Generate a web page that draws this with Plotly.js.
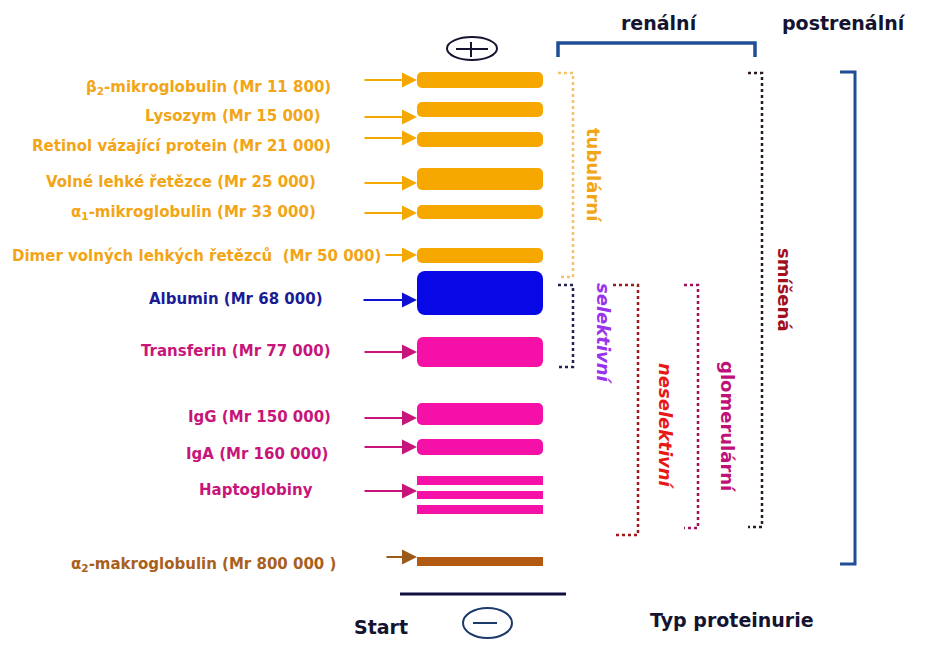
<!DOCTYPE html>
<html>
<head>
<meta charset="utf-8">
<script src="https://cdn.plot.ly/plotly-3.0.1.min.js"></script>
<style>html,body{margin:0;padding:0;background:#fff;}#chart{width:930px;height:671px;}</style>
</head>
<body>
<div id="chart"></div>
<script>
// ---------- DATA ----------
const proteins = ["β<sub>2</sub>-mikroglobulin", "Lysozym", "Retinol vázající protein", "Volné lehké řetězce",
  "α<sub>1</sub>-mikroglobulin", "Dimer volných lehkých řetězců ", "Albumin", "Transferin", "IgG", "IgA",
  "Haptoglobiny", "α<sub>2</sub>-makroglobulin"];
const mrValues = ["11 800", "15 000", "21 000", "25 000", "33 000", "50 000", "68 000", "77 000", "150 000", "160 000", "", "800 000 "];
const proteinGroup = ["tub", "tub", "tub", "tub", "tub", "tub", "alb", "glom", "glom", "glom", "glom", "mak"];
// bands on the gel (electrophoretic position, top and bottom edge)
const bandProtein = [0, 1, 2, 3, 4, 5, 6, 7, 8, 9, 10, 10, 10, 11];
const bandTop =    [72, 102, 132, 168, 205, 248, 271, 337, 403, 439, 476, 491, 505, 557];
const bandBottom = [88, 117, 147, 190, 219, 263, 315, 367, 425, 455, 485, 499, 514, 566];
const laneStart = 417, laneEnd = 543;
// proteinuria types
const typeNames = ["tubulární", "selektivní", "neselektivní", "glomerulární", "smíšená"];
const typeTop =    [73, 285, 285, 285, 73];
const typeBottom = [277, 367, 535, 528, 527];

// ---------- STYLE / LAYOUT ----------
const FONT = "DejaVu Sans, Liberation Sans, Arial, sans-serif";
const groupBar = {tub: "#F7A800", alb: "#0808E6", glom: "#F510A8", mak: "#B25A12"};
const groupLabel = {tub: "#F2A516", alb: "#1B1B96", glom: "#C8157A", mak: "#A8601C"};
const groupArrow = {tub: "#F5A800", alb: "#1010D0", glom: "#C8157A", mak: "#9A5A1A"};
const labelRight = [333, 323, 333, 318, 318, 383, 325, 333, 333, 330, 315, 338];
const labelY = [87, 116, 146, 182, 212, 256, 299, 351, 417, 454, 490, 564];
const arrowY = [80, 117, 138, 183, 213, 255, 300, 352, 418, 447, 491, 557];
const arrowFrom = [363, 363, 363, 363, 363, 384, 362, 363, 363, 363, 363, 385];
const bandRadius = [5, 5, 5, 5, 5, 5, 8, 6, 5, 5, 0, 0, 0, 0];
const typeStyle = [
  {bx: 573, w: 15, line: "#F5C46A", tx: 594, ty: 175, color: "#F2A516", italic: false},
  {bx: 573, w: 15, line: "#222255", tx: 604, ty: 334, color: "#9933EE", italic: true},
  {bx: 638, w: 25, line: "#A01818", tx: 666, ty: 426, color: "#E81818", italic: true},
  {bx: 698, w: 14, line: "#A0105A", tx: 728, ty: 426, color: "#C0107A", italic: false},
  {bx: 762, w: 14, line: "#2A1A1A", tx: 785, ty: 290, color: "#A01020", italic: false}
];
const DARK = "#141430";
const BLUE = "#1F4E96";

// ---------- TRACES ----------
const traces = bandTop.map((t, i) => {
  const g = proteinGroup[bandProtein[i]];
  return {
    type: "bar", orientation: "h",
    y: [(t + bandBottom[i]) / 2], x: [laneEnd - laneStart], base: [laneStart],
    width: [bandBottom[i] - t],
    marker: {color: groupBar[g], cornerradius: bandRadius[i], line: {width: 0}},
    hoverinfo: "skip", showlegend: false
  };
});

// ---------- ANNOTATIONS ----------
const ann = [];
proteins.forEach((p, i) => {
  const g = proteinGroup[i];
  const txt = mrValues[i] ? p + " (Mr " + mrValues[i] + ")" : p;
  ann.push({x: labelRight[i], y: labelY[i], xref: "x", yref: "y", xanchor: "right", yanchor: "middle",
    text: txt, showarrow: false, font: {family: FONT, size: 15, weight: "bold", color: groupLabel[g]}});
  ann.push({x: laneStart, y: arrowY[i], ax: arrowFrom[i], ay: arrowY[i], xref: "x", yref: "y", axref: "x", ayref: "y",
    text: "", showarrow: true, arrowhead: 2, arrowsize: 1.5, arrowwidth: 2, arrowcolor: groupArrow[g], standoff: 0});
});
typeNames.forEach((n, i) => {
  const s = typeStyle[i];
  ann.push({x: s.tx, y: s.ty, xref: "x", yref: "y", text: n, textangle: 90, showarrow: false,
    font: {family: FONT, size: 18, weight: "bold", style: s.italic ? "italic" : "normal", color: s.color}});
});
const heads = [
  {t: "renální", x: 659, y: 23}, {t: "postrenální", x: 844, y: 23},
  {t: "Start", x: 381, y: 627}, {t: "Typ proteinurie", x: 732, y: 620}
];
heads.forEach(h => ann.push({x: h.x, y: h.y, xref: "x", yref: "y", text: h.t, showarrow: false,
  font: {family: FONT, size: 19, weight: "bold", color: DARK}}));

// ---------- SHAPES ----------
const shapes = [];
typeNames.forEach((n, i) => {
  const s = typeStyle[i];
  shapes.push({type: "path", xref: "x", yref: "y",
    path: `M ${s.bx - s.w} ${typeTop[i]} L ${s.bx} ${typeTop[i]} L ${s.bx} ${typeBottom[i]} L ${s.bx - s.w} ${typeBottom[i]}`,
    line: {color: s.line, width: 2.5, dash: "dot"}});
});
// renální bracket
shapes.push({type: "path", xref: "x", yref: "y", path: "M 558 57 L 558 43 L 755 43 L 755 57",
  line: {color: BLUE, width: 3.5}});
// postrenální bracket
shapes.push({type: "path", xref: "x", yref: "y", path: "M 840 72 L 855 72 L 855 564 L 840 564",
  line: {color: BLUE, width: 3}});
// start line
shapes.push({type: "line", xref: "x", yref: "y", x0: 400, x1: 566, y0: 594, y1: 594, line: {color: "#101040", width: 3}});
// + electrode
shapes.push({type: "circle", xref: "x", yref: "y", x0: 447, x1: 497, y0: 37, y1: 60, line: {color: DARK, width: 2}});
shapes.push({type: "line", xref: "x", yref: "y", x0: 456, x1: 488, y0: 49, y1: 49, line: {color: DARK, width: 2}});
shapes.push({type: "line", xref: "x", yref: "y", x0: 471, x1: 471, y0: 42, y1: 57, line: {color: DARK, width: 2}});
// − electrode
shapes.push({type: "circle", xref: "x", yref: "y", x0: 463, x1: 512, y0: 608, y1: 638, line: {color: "#1C3A6A", width: 2}});
shapes.push({type: "line", xref: "x", yref: "y", x0: 473, x1: 497, y0: 623, y1: 623, line: {color: "#1C3A6A", width: 2}});

const layout = {
  width: 930, height: 671, margin: {l: 0, r: 0, t: 0, b: 0},
  paper_bgcolor: "#fff", plot_bgcolor: "#fff", showlegend: false, barmode: "overlay",
  xaxis: {range: [0, 930], visible: false, fixedrange: true},
  yaxis: {range: [671, 0], visible: false, fixedrange: true},
  annotations: ann, shapes: shapes
};
Plotly.newPlot("chart", traces, layout, {displayModeBar: false, staticPlot: true});
</script>
</body>
</html>
